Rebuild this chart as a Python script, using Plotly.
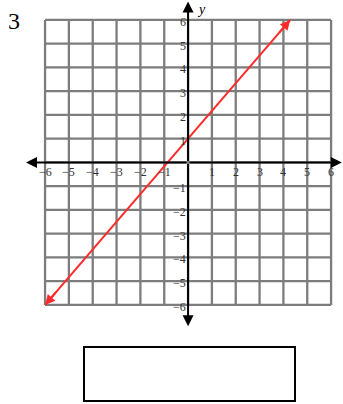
import plotly.graph_objects as go

# ---- data ----
problem_label = "3"
grid_values = [-6, -5, -4, -3, -2, -1, 0, 1, 2, 3, 4, 5, 6]
x_tick_values = [-6, -5, -4, -3, -2, -1, 1, 2, 3, 4, 5, 6]
x_tick_labels = ["−6", "−5", "−4", "−3", "−2", "−1", "1", "2", "3", "4", "5", "6"]
y_tick_values = [6, 5, 4, 3, 2, 1, -1, -2, -3, -4, -5, -6]
y_tick_labels = ["6", "5", "4", "3", "2", "1", "−1", "−2", "−3", "−4", "−5", "−6"]
line_x = [-6, 30 / 7]
line_y = [-6, 6]

SERIF = "Liberation Serif, Times New Roman, serif"
GRID = "#7d7d7d"

fig = go.Figure()

fig.add_trace(go.Scatter(x=line_x, y=line_y, mode="lines",
                         line=dict(color="#ff2a2a", width=2),
                         hoverinfo="skip", showlegend=False))

shapes = []
for g in grid_values:
    shapes.append(dict(type="line", xref="x", yref="y", x0=g, x1=g, y0=-6, y1=6,
                       line=dict(color=GRID, width=2.3), layer="below"))
    shapes.append(dict(type="line", xref="x", yref="y", x0=-6, x1=6, y0=g, y1=g,
                       line=dict(color=GRID, width=2.3), layer="below"))
# answer box
shapes.append(dict(type="rect", xref="paper", yref="paper",
                   x0=84 / 343, x1=295 / 343, y0=1 - 401 / 404, y1=1 - 347 / 404,
                   line=dict(color="black", width=2), fillcolor="white"))

annotations = []
# axes with arrows
for (hx, hy) in [(-6.8, 0), (6.45, 0), (0, 6.78), (0, -6.9)]:
    annotations.append(dict(x=hx, y=hy, ax=0, ay=0, xref="x", yref="y",
                            axref="x", ayref="y", text="", showarrow=True,
                            arrowhead=2, arrowsize=1.1, arrowwidth=2,
                            arrowcolor="black"))
# red line arrowheads
dx = line_x[1] - line_x[0]
dy = line_y[1] - line_y[0]
for i, s in [(0, 1), (1, -1)]:
    annotations.append(dict(x=line_x[i], y=line_y[i],
                            ax=line_x[i] + s * dx * 0.05, ay=line_y[i] + s * dy * 0.05,
                            xref="x", yref="y", axref="x", ayref="y", text="",
                            showarrow=True, arrowhead=2, arrowsize=1.0,
                            arrowwidth=2, arrowcolor="#ff2a2a"))
# tick labels
for v, t in zip(x_tick_values, x_tick_labels):
    annotations.append(dict(x=v, y=0, xref="x", yref="y", text=t, showarrow=False,
                            yshift=-10, font=dict(family=SERIF, size=12, color="#333")))
for v, t in zip(y_tick_values, y_tick_labels):
    annotations.append(dict(x=0, y=v, xref="x", yref="y", text=t, showarrow=False,
                            xanchor="right", xshift=0, yshift=-2,
                            font=dict(family=SERIF, size=12, color="#333")))
# y label
annotations.append(dict(x=0, y=6.45, xref="x", yref="y", text="<i>y</i>",
                        showarrow=False, xanchor="left", xshift=7,
                        font=dict(family=SERIF, size=14, color="black")))
# problem number
annotations.append(dict(x=6 / 343, y=1 - 6 / 404, xref="paper", yref="paper",
                        text=problem_label, showarrow=False, xanchor="left",
                        yanchor="top", font=dict(family=SERIF, size=24, color="black")))

fig.update_layout(
    width=343, height=404,
    margin=dict(l=0, r=0, t=0, b=0),
    paper_bgcolor="white", plot_bgcolor="white",
    xaxis=dict(range=[-7.89, 6.50], visible=False, domain=[0, 1]),
    yaxis=dict(range=[-10.17, 6.84], visible=False, domain=[0, 1]),
    shapes=shapes, annotations=annotations,
)

fig.write_html("out.html", config={"displayModeBar": False},
               post_script="document.body.style.margin='0';document.body.style.overflow='hidden';")
